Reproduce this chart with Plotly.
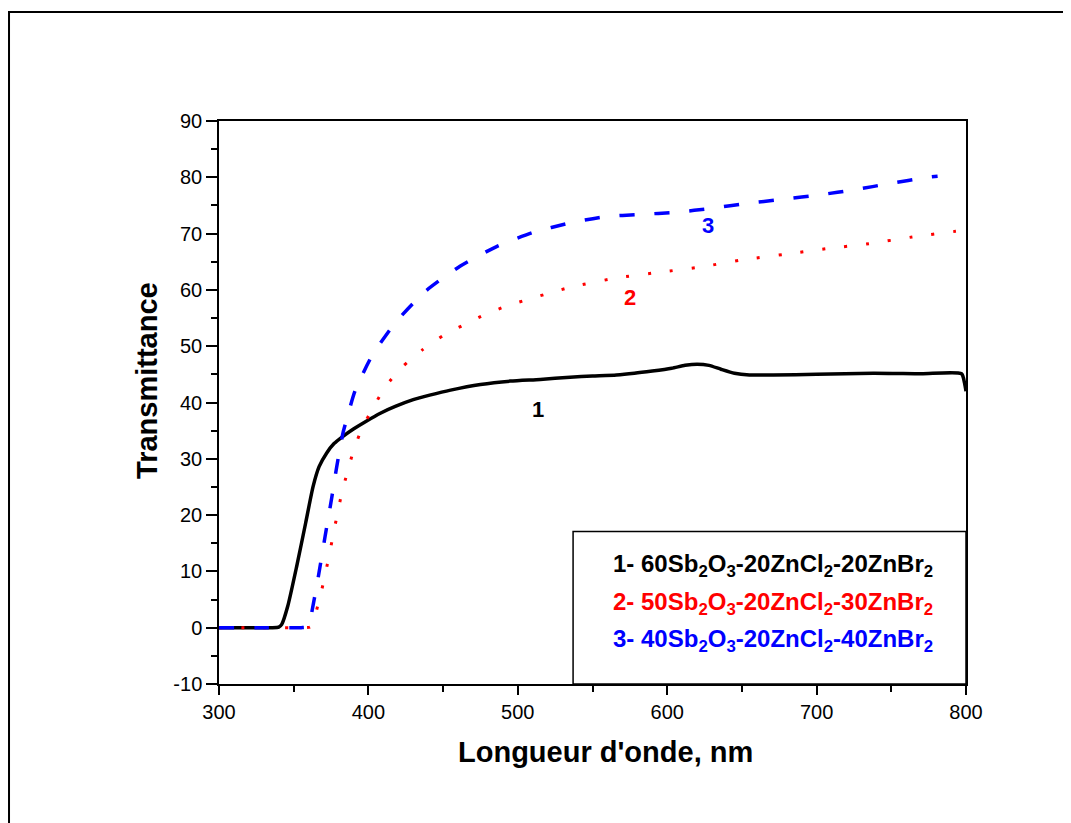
import plotly.graph_objects as go

# ---------------- data ----------------
wl1 = [300, 320, 335, 340, 342, 346, 352, 358, 363, 367, 372, 377, 383, 390, 398, 408, 418, 430,
       441, 455, 475, 495, 515, 535, 550, 566, 578, 590, 603, 612, 620, 628, 636, 645,
       655, 671, 700, 738, 770, 797, 799, 800]
t1 = [0, 0, 0, 0.1, 0.6, 3.8, 10.9, 18.6, 25.1, 28.6, 31.0, 32.7, 34.0, 35.3, 36.6, 38.1, 39.3, 40.5,
      41.3, 42.2, 43.2, 43.8, 44.1, 44.5, 44.7, 44.9, 45.2, 45.6, 46.1, 46.6, 46.8, 46.6, 45.9, 45.2,
      44.9, 44.9, 45.0, 45.2, 45.1, 45.1, 43.5, 42.0]

wl2 = [300, 330, 355, 361, 362.7, 367.1, 370.3, 373.4, 376.3, 379, 382.1, 386.1, 390.1, 395.7,
       403.2, 411.6, 423, 435.9, 450.1, 464.7, 478.7, 493.2, 507.8, 522, 535.5, 565.5,
       594, 623, 652, 681, 706, 735, 764, 793, 800]
t2 = [0, 0, 0, 0.1, 0.8, 4.9, 8.5, 12.4, 16.3, 19.9, 23.8, 27.8, 31.5, 35.4,
      39.1, 42.9, 46.4, 49.3, 51.9, 53.9, 55.7, 57.2, 58.4, 59.5, 60.5, 62.1,
      63.1, 64.1, 65.4, 66.4, 67.3, 68.2, 69.4, 70.4, 70.6]

wl3 = [300, 330, 355, 360, 362, 366.5, 371, 375.4, 378.8, 383, 386, 391, 402.2, 417.8, 437.9,
       461.3, 485.8, 510.2, 535, 558.4, 581.8, 606.3, 629.8, 654.3, 677.8, 702.3,
       725.7, 749.1, 774.3, 781]
t3 = [0, 0, 0, 0.2, 2.6, 9.1, 16.2, 23.0, 28.6, 34.6, 37.5, 42.0, 48.2, 54.1, 59.7,
      64.2, 67.7, 70.2, 71.9, 73.0, 73.4, 73.8, 74.5, 75.4, 76.1, 76.9,
      77.8, 78.9, 80.0, 80.2]

legend_labels = [
    "1- 60Sb<sub>2</sub>O<sub>3</sub>-20ZnCl<sub>2</sub>-20ZnBr<sub>2</sub>",
    "2- 50Sb<sub>2</sub>O<sub>3</sub>-20ZnCl<sub>2</sub>-30ZnBr<sub>2</sub>",
    "3- 40Sb<sub>2</sub>O<sub>3</sub>-20ZnCl<sub>2</sub>-40ZnBr<sub>2</sub>",
]
curve_tags = ["1", "2", "3"]
colors = ["black", "#ff0000", "#0000ff"]
x_ticks = [300, 400, 500, 600, 700, 800]
y_ticks = [-10, 0, 10, 20, 30, 40, 50, 60, 70, 80, 90]
y_tick_text = ["-10", "0", "10", "20", "30", "40", "50", "60", "70", "80", "90"]
x_title = "Longueur d'onde, nm"
y_title = "Transmittance"

FONT = "Liberation Sans, Arial, sans-serif"

fig = go.Figure()
fig.add_trace(go.Scatter(x=wl1, y=t1, mode="lines", name="1",
                         line=dict(color=colors[0], width=3.5, shape="spline", smoothing=0.6)))
fig.add_trace(go.Scatter(x=wl2, y=t2, mode="lines", name="2",
                         line=dict(color=colors[1], width=3, dash="3px,19px",
                                   shape="spline", smoothing=0.6)))
fig.add_trace(go.Scatter(x=wl3, y=t3, mode="lines", name="3",
                         line=dict(color=colors[2], width=3.5, dash="15px,20px",
                                   shape="spline", smoothing=0.6)))

# curve tags
tag_pos = [(513.5, 38.7), (575.1, 58.6), (627.3, 71.4)]
for tag, (tx, ty), c in zip(curve_tags, tag_pos, colors):
    fig.add_annotation(x=tx, y=ty, xref="x", yref="y", text="<b>%s</b>" % tag,
                       showarrow=False, font=dict(family=FONT, size=22, color=c))

# legend box
fig.add_shape(type="rect", xref="x", yref="y", x0=537, x1=800, y0=-10, y1=17.1,
              line=dict(color="black", width=1.5), fillcolor="white", layer="below")
leg_y = [11.0, 4.3, -2.3]
for lab, ly, c in zip(legend_labels, leg_y, colors):
    fig.add_annotation(x=562.5, y=ly, xref="x", yref="y", text="<b>%s</b>" % lab,
                       showarrow=False, xanchor="left", yanchor="middle",
                       font=dict(family=FONT, size=24, color=c))

# axis titles
fig.add_annotation(x=0.518, y=-0.121, xref="paper", yref="paper",
                   text="<b>%s</b>" % x_title, showarrow=False,
                   xanchor="center", yanchor="middle",
                   font=dict(family=FONT, size=29, color="black"))
fig.add_annotation(x=-0.0964, y=0.54, xref="paper", yref="paper",
                   text="<b>%s</b>" % y_title, showarrow=False, textangle=-90,
                   xanchor="center", yanchor="middle",
                   font=dict(family=FONT, size=29, color="black"))

# outer frame
fig.add_shape(type="rect", xref="paper", yref="paper", x0=-0.2811, x1=1.3,
              y0=-0.4, y1=1.1936, line=dict(color="black", width=2))

fig.update_layout(
    width=1071, height=823,
    margin=dict(l=211, r=113, t=113, b=147),
    paper_bgcolor="white", plot_bgcolor="white",
    showlegend=False,
    font=dict(family=FONT, color="black"),
    xaxis=dict(range=[300, 800], tickvals=x_ticks,
               showline=True, linecolor="black", linewidth=1.5, mirror=True,
               ticks="outside", ticklen=9, tickwidth=1.5, tickcolor="black",
               minor=dict(tickvals=[350, 450, 550, 650, 750], ticks="outside",
                          ticklen=6, tickwidth=1.5, tickcolor="black"),
               showgrid=False, zeroline=False,
               tickfont=dict(family=FONT, size=20)),
    yaxis=dict(range=[-10, 90], tickvals=y_ticks, ticktext=y_tick_text,
               showline=True, linecolor="black", linewidth=1.5, mirror=True,
               ticks="outside", ticklen=11, tickwidth=1.5, tickcolor="black",
               minor=dict(tickvals=list(range(-5, 90, 10)), ticks="outside",
                          ticklen=6, tickwidth=1.5, tickcolor="black"),
               showgrid=False, zeroline=False,
               tickfont=dict(family=FONT, size=20)),
)

fig.write_html("out.html")
